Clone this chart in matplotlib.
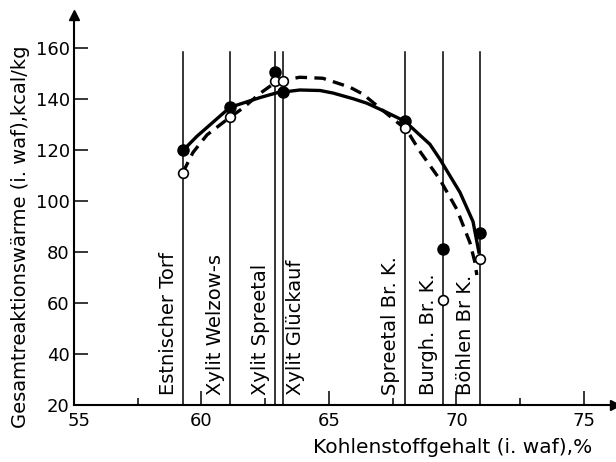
import matplotlib
matplotlib.use('Agg')
import matplotlib.pyplot as plt
import matplotlib.transforms as mtransforms

# samples (carbon content, % waf) and their names
sample_x = [59.27, 61.12, 62.88, 63.2, 67.98, 69.47, 70.92]
sample_names = ['Estnischer Torf', 'Xylit Welzow-s', 'Xylit Spreetal', 'Xylit Glückauf',
                'Spreetal Br. K.', 'Burgh. Br. K.', 'Böhlen Br K.']

# measured heats, kcal/kg
filled_y = [120, 136.8, 150.5, 142.7, 131.5, 81.3, 87.6]
open_y = [111, 133, 147, 147, 128.5, 61.3, 77.4]

# hand-drawn fitting curves
solid_x = [59.24, 59.82, 61.12, 62.29, 62.96, 63.86, 64.65, 65.16, 65.94, 66.49, 67.27,
           67.98, 68.96, 69.35, 70.14, 70.65, 70.88]
solid_y = [119.5, 125.4, 136.8, 140.6, 142.5, 143.6, 143.4, 142.4, 140.2, 138.4, 134.8,
           131.3, 122.3, 116.5, 103.4, 92.0, 80]
dashed_x = [59.27, 59.67, 60.22, 61.12, 61.63, 62.29, 62.96, 63.86, 64.76, 65.82, 66.33,
            67.0, 67.98, 68.18, 68.57, 69.35, 70.02, 70.53, 70.73, 70.8]
dashed_y = [111.2, 119.1, 126.0, 132.9, 136.5, 142.2, 147, 148.6, 148.2, 144.7, 142.0,
            136.5, 128.5, 125.8, 119.5, 108.5, 96.7, 83.7, 75.8, 71]

x_ticks = [55, 60, 65, 70, 75]
x_minor = [57.5, 62.5, 67.5, 72.5]
y_ticks = [20, 40, 60, 80, 100, 120, 140, 160]

fig = plt.figure(figsize=(6.16, 4.62), dpi=100)
ax = fig.add_axes([0.120, 0.1234, 0.8776, 0.844])
ax.set_xlim(55, 76.2)
ax.set_ylim(20, 173)

for side in ['top', 'right']:
    ax.spines[side].set_visible(False)
for side in ['left', 'bottom']:
    ax.spines[side].set_linewidth(1.5)

# axis arrows
ax.plot(1, 0, '>k', markersize=7, transform=ax.transAxes, clip_on=False)
ax.plot(0, 1, '^k', markersize=7, transform=ax.transAxes, clip_on=False)

# vertical sample lines with labels
for x, name in zip(sample_x, sample_names):
    ax.plot([x, x], [20, 158.5], color='black', linewidth=1.1, zorder=1)
    if name == 'Xylit Glückauf':
        ax.text(x + 0.12, 24, name, rotation=90, ha='left', va='bottom', fontsize=14)
    else:
        ax.text(x - 0.2, 24, name, rotation=90, ha='right', va='bottom', fontsize=14)

ax.plot(solid_x, solid_y, color='black', linewidth=2.4, zorder=2)
ax.plot(dashed_x, dashed_y, color='black', linewidth=2.4, dashes=(3.5, 2.2), zorder=2)

ax.plot(sample_x, filled_y, 'o', color='black', markersize=8, zorder=3)
ax.plot(sample_x, open_y, 'o', markerfacecolor='white', markeredgecolor='black',
        markeredgewidth=1.2, markersize=7, zorder=4)

ax.set_xticks(x_ticks)
ax.set_xticks(x_minor, minor=True)
ax.set_yticks(y_ticks)
ax.tick_params(axis='both', which='major', direction='in', length=10, width=1.1, labelsize=13)
ax.tick_params(axis='x', which='minor', direction='in', length=5, width=1.1)
ax.tick_params(axis='x', pad=5)
ax.tick_params(axis='y', pad=3)

# the "55" sits a little right of its tick, clear of the "20"
shift = mtransforms.ScaledTranslation(5 / 100, 0, fig.dpi_scale_trans)
first = ax.get_xticklabels()[0]
first.set_transform(first.get_transform() + shift)

fig.text(0.034, 0.487, 'Gesamtreaktionswärme (i. waf),kcal/kg', rotation=90,
         ha='center', va='center', fontsize=14)
fig.text(0.734, 0.032, 'Kohlenstoffgehalt (i. waf),%', ha='center', va='center', fontsize=14.5)

fig.savefig('out.png', dpi=100)
